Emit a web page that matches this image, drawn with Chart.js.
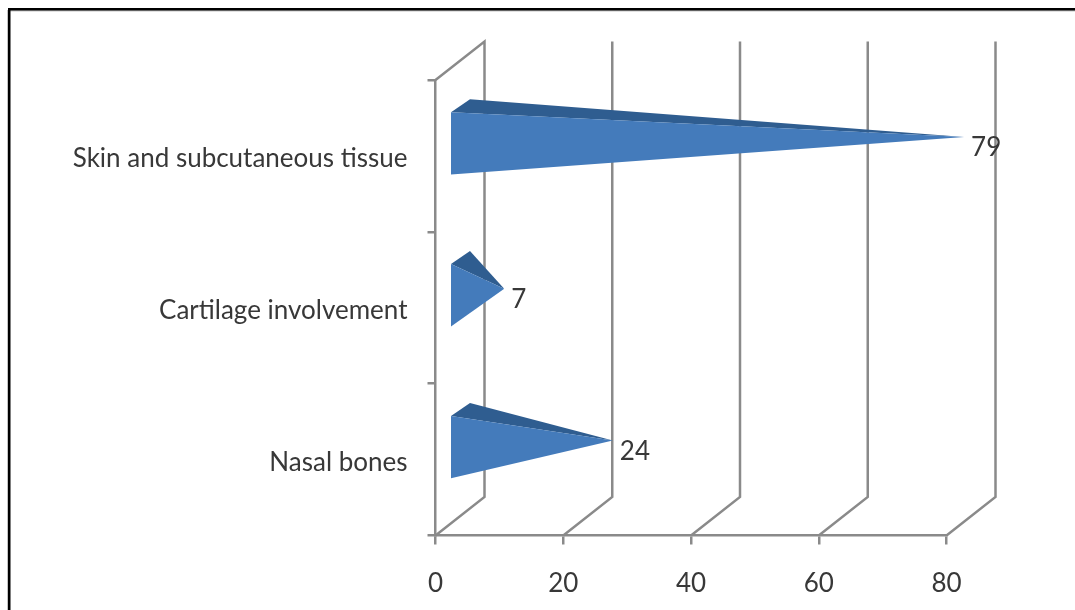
<!DOCTYPE html>
<html>
<head>
<meta charset="utf-8">
<style>html,body{margin:0;padding:0;background:#fff}canvas{display:block;filter:blur(0.45px)}#w{width:1075px;height:610px;position:relative;overflow:hidden}</style>
<script src="https://cdn.jsdelivr.net/npm/chart.js@4"></script>
</head>
<body>
<div id="w"><canvas id="c" width="1075" height="610"></canvas></div>
<script>
const categories = ["Skin and subcutaneous tissue", "Cartilage involvement", "Nasal bones"];
const seriesValues = [79, 7, 24];
const xTicks = [0, 20, 40, 60, 80];

const GREY = "#8a8a8a", TEXT = "#383838", FONT = "Lato";
const FRONT = "#447bbb", TOP = "#2f5d90";
const WALL = {dx: 49, dy: -38.5};
const BAR = {fx: 15.5, bx: 34.5, mx: 24, my: -19};

const scene = {
  id: "scene",
  beforeDraw(chart) {
    const c = chart.ctx;
    c.save();
    c.fillStyle = "#c4c4c4";
    c.fillRect(7, 10, 1, 600);
    c.fillRect(8, 10, 1067, 1.5);
    c.fillStyle = "#000";
    c.fillRect(8, 8, 1067, 2.5);
    c.fillRect(8, 8, 2.5, 602);
    c.restore();
  },
  beforeDatasetsDraw(chart) {
    const c = chart.ctx, x = chart.scales.x, a = chart.chartArea;
    c.save();
    c.strokeStyle = GREY;
    c.lineWidth = 2.5;
    c.lineJoin = "miter";
    xTicks.forEach(v => {
      const p = x.getPixelForValue(v);
      c.beginPath();
      c.moveTo(p, a.bottom);
      c.lineTo(p + WALL.dx, a.bottom + WALL.dy);
      c.lineTo(p + WALL.dx, a.top + WALL.dy);
      if (v === 0) c.lineTo(p, a.top);
      c.stroke();
    });
    c.restore();
  },
  afterDatasetsDraw(chart) {
    const c = chart.ctx, meta = chart.getDatasetMeta(0), x = chart.scales.x;
    c.save();
    const x0 = x.getPixelForValue(0);
    meta.data.forEach((el, i) => {
      const h = el.height, base = x0 + BAR.fx;
      const tipX = el.x + BAR.mx, tipY = el.y + BAR.my;
      const topY = el.y + BAR.my + 6.5 - h / 2, botY = topY + h;
      c.fillStyle = TOP;
      c.beginPath();
      c.moveTo(base, topY);
      c.lineTo(x0 + BAR.bx, topY - 13);
      c.lineTo(tipX, tipY);
      c.closePath();
      c.fill();
      c.fillStyle = FRONT;
      c.beginPath();
      c.moveTo(base, topY);
      c.lineTo(base, botY);
      c.lineTo(tipX, tipY);
      c.closePath();
      c.fill();
      c.fillStyle = TEXT;
      c.font = "26px " + FONT;
      c.textAlign = "left";
      c.textBaseline = "middle";
      c.fillText(String(seriesValues[i]), tipX + 7, tipY + 11);
    });
    c.restore();
  }
};

new Chart(document.getElementById("c"), {
  type: "bar",
  data: {
    labels: categories,
    datasets: [{
      data: seriesValues,
      backgroundColor: "rgba(0,0,0,0)",
      borderWidth: 0,
      barPercentage: 0.41,
      categoryPercentage: 1
    }]
  },
  plugins: [scene],
  options: {
    indexAxis: "y",
    responsive: false,
    animation: false,
    layout: {padding: {top: 80, right: 128.5, left: 0, bottom: 0}},
    plugins: {legend: {display: false}, tooltip: {enabled: false}, title: {display: false}},
    scales: {
      x: {
        type: "linear",
        min: 0,
        max: 80,
        afterBuildTicks: s => { s.ticks = xTicks.map(v => ({value: v})); },
        afterFit: s => { s.height = 74.5; },
        border: {color: GREY, width: 2.5},
        grid: {drawOnChartArea: false, drawTicks: true, tickLength: 9, color: GREY, lineWidth: 2.5},
        ticks: {color: TEXT, padding: 24, maxRotation: 0, font: {family: FONT, size: 26}}
      },
      y: {
        type: "category",
        offset: true,
        afterFit: s => { s.width = 435.5; },
        border: {color: GREY, width: 2.5},
        grid: {offset: true, drawOnChartArea: false, tickLength: 8, color: GREY, lineWidth: 2.5},
        ticks: {color: TEXT, padding: 20, labelOffset: 3, autoSkip: false, font: {family: FONT, size: 26}}
      }
    }
  }
});
</script>
</body>
</html>
